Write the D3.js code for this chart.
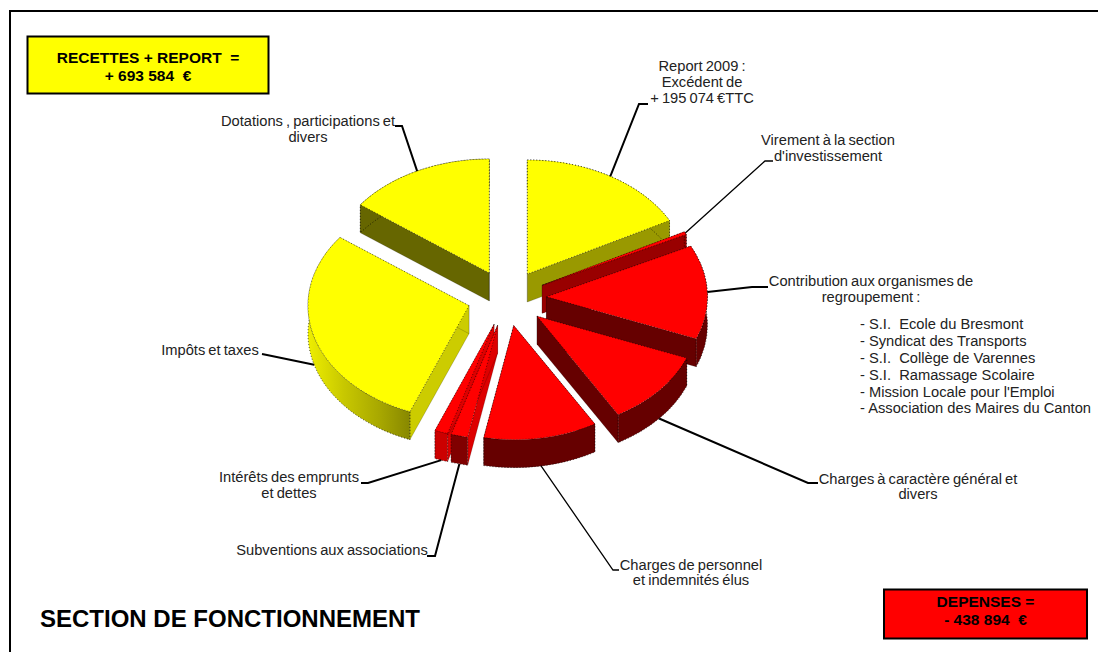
<!DOCTYPE html>
<html>
<head>
<meta charset="utf-8">
<script src="https://cdn.jsdelivr.net/npm/d3@7"></script>
<style>
  html, body { margin: 0; padding: 0; background: #fff; }
  svg { display: block; }
  text { font-family: "Liberation Sans", Arial, sans-serif; }
  .lbl { font-size: 14.7px; fill: #222; word-spacing: -1px; }
  .lbl-list { font-size: 14.7px; fill: #222; white-space: pre; }
  .box-txt { font-size: 15.5px; font-weight: bold; fill: #000; text-anchor: middle; white-space: pre; }
</style>
</head>
<body>
<div id="chart"></div>
<script>
// euros (recettes add up to 693 584, depenses to 438 894)
const names = ["report", "virement", "contribution", "generales", "personnel", "subventions", "interets", "impots", "dotations"];
const values = [195074, 4894, 151000, 120000, 129000, 19000, 15000, 331000, 167510];
const labels = [
    ["Report 2009 :", "Excédent de", "+ 195 074 €TTC"],
    ["Virement à la section", "d'investissement"],
    ["Contribution aux organismes de", "regroupement :"],
    ["Charges à caractère général et", "divers"],
    ["Charges de personnel", "et indemnités élus"],
    ["Subventions aux associations"],
    ["Intérêts des emprunts", "et dettes"],
    ["Impôts et taxes"],
    ["Dotations , participations et", "divers"]
];
const organismes = [
    "- S.I.  Ecole du Bresmont",
    "- Syndicat des Transports",
    "- S.I.  Collège de Varennes",
    "- S.I.  Ramassage Scolaire",
    "- Mission Locale pour l'Emploi",
    "- Association des Maires du Canton"
];

// colours per slice
const topColors = ["#ffff00", "#ff0000", "#ff0000", "#ff0000", "#ff0000", "#ff0000", "#ff0000", "#ffff00", "#ffff00"];
const faceColors = ["#999900", "#990000", "#660000", "#660000", "#660000", "#dd0000", "#dd0000", "#cccc00", "#666600"];
const wallColors = [
    ["#999900", "#999900"], ["#990000", "#990000"], ["#990000", "#660000"],
    ["#660000", "#660000"], ["#660000", "#660000"], ["#800000", "#800000"],
    ["#cc0000", "#cc0000"], ["#888800", "#eeee00"], ["#666600", "#666600"]
];

// where each label goes: text anchor point, first baseline, line step, leader elbow + end
const layout = {
    report:       {x: 702, y: 71,  dy: 16, anchor: "middle", elbow: [639, 104], end: [648, 104], w: 2},
    virement:     {x: 828, y: 145, dy: 16, anchor: "middle", elbow: [765, 161], end: [773, 161], w: 1.3},
    contribution: {x: 871, y: 286, dy: 16, anchor: "middle", elbow: [752, 287], end: [768, 287], w: 2},
    generales:    {x: 918, y: 484, dy: 15, anchor: "middle", elbow: [808, 483], end: [818, 483], w: 2},
    personnel:    {x: 691, y: 570, dy: 15, anchor: "middle", elbow: [613, 570], end: [619, 570], w: 1.3},
    subventions:  {x: 332, y: 555, dy: 16, anchor: "middle", elbow: [435, 556], end: [427, 556], w: 2},
    interets:     {x: 289, y: 482, dy: 16, anchor: "middle", elbow: [368, 483], end: [361, 483], w: 2},
    impots:       {x: 210, y: 355, dy: 16, anchor: "middle", elbow: [267, 355], end: [262, 354], w: 2},
    dotations:    {x: 308, y: 126, dy: 16, anchor: "middle", elbow: [402, 126], end: [395, 126], w: 2}
};

const width = 1098, height = 652;
const cx = 507, cy = 298, rx = 161, ry = 114;
const depth = 28, explode = 39.5;
// back slices first so the front ones paint over them
const drawOrder = [8, 0, 1, 2, 3, 7, 6, 5, 4];

const svg = d3.select("#chart").append("svg")
    .attr("width", width)
    .attr("height", height);
const defs = svg.append("defs");

// frame, only top and left are visible in the reference
svg.append("path")
    .attr("d", d3.line()([[10, height], [10, 11], [width, 11]]))
    .attr("fill", "none")
    .attr("stroke", "#000")
    .attr("stroke-width", 2);

const arcs = d3.pie().sort(null).value(d => d)(values);

// apex of an exploded slice on the tilted pie
function apex(d) {
    let mid = (d.startAngle + d.endAngle) / 2;
    return [cx + explode * Math.sin(mid), cy - explode * Math.cos(mid) * ry / rx];
}
function rim(d, a, dz) {
    let c = apex(d);
    return [c[0] + rx * Math.sin(a), c[1] - ry * Math.cos(a) + (dz || 0)];
}
function arcTo(p, large, sweep) {
    return `A${rx},${ry} 0 ${large} ${sweep} ${p[0]},${p[1]}`;
}

const pieG = svg.append("g");

drawOrder.forEach(i => {
    let d = arcs[i];
    let c = apex(d);
    let a0 = d.startAngle, a1 = d.endAngle;
    let large = a1 - a0 > Math.PI ? 1 : 0;
    let p0 = rim(d, a0), p1 = rim(d, a1);
    let p0b = rim(d, a0, depth), p1b = rim(d, a1, depth);
    let g = pieG.append("g").attr("class", "slice " + names[i]);

    // gradient runs along x over the outer wall
    let gradId = "wall-" + names[i];
    let isImpots = names[i] === "impots";
    let grad = defs.append("linearGradient")
        .attr("id", gradId)
        .attr("gradientUnits", "userSpaceOnUse")
        .attr("x1", p0[0])
        .attr("x2", isImpots ? c[0] - rx : p1[0])
        .attr("y1", 0).attr("y2", 0);
    grad.append("stop").attr("offset", 0).attr("stop-color", wallColors[i][0]);
    if (isImpots) {
        grad.append("stop").attr("offset", 0.3).attr("stop-color", "#a8a800");
        grad.append("stop").attr("offset", 0.65).attr("stop-color", "#c8c800");
    }
    grad.append("stop").attr("offset", 1).attr("stop-color", wallColors[i][1]);

    // the two cut faces
    [[a0, p0, p0b], [a1, p1, p1b]].forEach(f => {
        g.append("path")
            .attr("d", `M${c[0]},${c[1]} L${f[1][0]},${f[1][1]} L${f[2][0]},${f[2][1]} L${c[0]},${c[1] + depth} Z`)
            .attr("fill", faceColors[i])
            .attr("stroke", "#000")
            .attr("stroke-opacity", 0.35)
            .attr("stroke-width", 0.5);
    });

    // outer wall
    g.append("path")
        .attr("d", `M${p0[0]},${p0[1]} ${arcTo(p1, large, 1)} L${p1b[0]},${p1b[1]} ${arcTo(p0b, large, 0)} Z`)
        .attr("fill", `url(#${gradId})`)
        .attr("stroke", "#000")
        .attr("stroke-width", 0.7)
        .attr("stroke-dasharray", "1 2");

    // top
    g.append("path")
        .attr("d", `M${c[0]},${c[1]} L${p0[0]},${p0[1]} ${arcTo(p1, large, 1)} Z`)
        .attr("fill", topColors[i])
        .attr("stroke", "#000")
        .attr("stroke-width", 0.6)
        .attr("stroke-dasharray", "1 2");
});

// leader lines start on the rim at the middle of the slice
const leader = d3.line();
arcs.forEach((d, i) => {
    let l = layout[names[i]];
    let mid = (d.startAngle + d.endAngle) / 2;
    let start = rim(d, mid, Math.cos(mid) < 0 ? depth : 0);
    svg.append("path")
        .attr("d", leader([start, l.elbow, l.end]))
        .attr("fill", "none")
        .attr("stroke", "#000")
        .attr("stroke-width", l.w);

    labels[i].forEach((txt, k) => {
        svg.append("text")
            .attr("class", "lbl")
            .attr("x", l.x)
            .attr("y", l.y + k * l.dy)
            .attr("text-anchor", l.anchor)
            .text(txt);
    });
});

const listY = [328.5, 345.5, 362.5, 380, 396.5, 412.5];
organismes.forEach((txt, k) => {
    svg.append("text")
        .attr("class", "lbl-list")
        .attr("x", 860)
        .attr("y", listY[k])
        .text(txt);
});

// total boxes
function totalBox(x, y, w, h, fill, lines, ys) {
    svg.append("rect")
        .attr("x", x).attr("y", y)
        .attr("width", w).attr("height", h)
        .attr("fill", fill)
        .attr("stroke", "#000")
        .attr("stroke-width", 2);
    lines.forEach((txt, k) => {
        svg.append("text")
            .attr("class", "box-txt")
            .attr("x", x + w / 2)
            .attr("y", ys[k])
            .text(txt);
    });
}
totalBox(27.5, 36.5, 241, 57, "#ffff00", ["RECETTES + REPORT  =", "+ 693 584  €"], [63, 81]);
totalBox(884, 589.5, 203, 49, "#ff0000", ["DEPENSES =", "- 438 894  €"], [607, 625]);

svg.append("text")
    .attr("x", 40)
    .attr("y", 627)
    .attr("font-size", 24)
    .attr("font-weight", "bold")
    .attr("fill", "#000")
    .text("SECTION DE FONCTIONNEMENT");
</script>
</body>
</html>
